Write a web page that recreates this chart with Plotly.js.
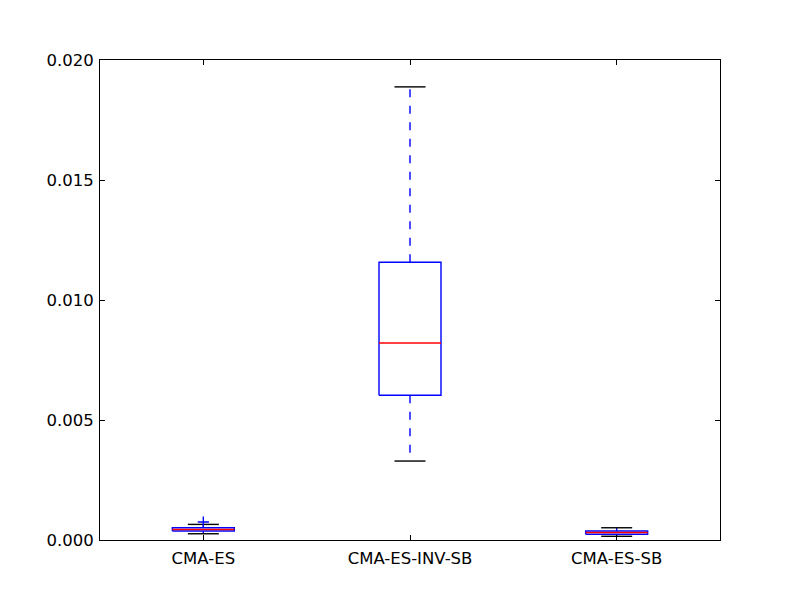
<!DOCTYPE html>
<html>
<head>
<meta charset="utf-8">
<script src="https://cdn.plot.ly/plotly-3.0.1.min.js"></script>
<style>
  body { margin: 0; background: #fff; }
  #boxPlot { width: 800px; height: 600px; }
</style>
</head>
<body>
<div id="boxPlot"></div>
<script>
// values
const categories = ['CMA-ES', 'CMA-ES-INV-SB', 'CMA-ES-SB'];
const lowerWhisker = [0.00026, 0.00329, 0.000155];
const q1 = [0.000375, 0.00603, 0.00024];
const median = [0.00044, 0.00821, 0.00031];
const q3 = [0.00051, 0.01157, 0.000375];
const upperWhisker = [0.00065, 0.01888, 0.00051];
const outliers = [[0.00075], [], []];

document.addEventListener('DOMContentLoaded', (event) => {

    const halfWidth = 0.15;   // matplotlib default box width 0.3
    const capHalf = halfWidth / 2;
    const positions = categories.map((c, i) => i + 1);
    const lw = 1.4;

    let whiskers = [];
    let caps = [];
    let boxes = [];
    let medians = [];
    let fliers = [];

    positions.forEach((pos, i) => {
        // dashed whiskers
        whiskers.push({
            x: [pos, pos, null, pos, pos],
            y: [q1[i], lowerWhisker[i], null, q3[i], upperWhisker[i]],
            mode: 'lines', type: 'scatter',
            line: {color: 'blue', width: lw, dash: '8px,8.5px'},
            hoverinfo: 'skip'
        });

        // black caps
        caps.push({
            x: [pos - capHalf, pos + capHalf, null, pos - capHalf, pos + capHalf],
            y: [lowerWhisker[i], lowerWhisker[i], null, upperWhisker[i], upperWhisker[i]],
            mode: 'lines', type: 'scatter',
            line: {color: 'black', width: lw},
            hoverinfo: 'skip'
        });

        // box outline
        boxes.push({
            x: [pos - halfWidth, pos + halfWidth, pos + halfWidth, pos - halfWidth, pos - halfWidth],
            y: [q1[i], q1[i], q3[i], q3[i], q1[i]],
            mode: 'lines', type: 'scatter',
            line: {color: 'blue', width: lw},
            hoverinfo: 'skip'
        });

        // median
        medians.push({
            x: [pos - halfWidth, pos + halfWidth],
            y: [median[i], median[i]],
            mode: 'lines', type: 'scatter',
            line: {color: 'red', width: lw},
            hoverinfo: 'skip'
        });

        if (outliers[i].length) {
            fliers.push({
                x: outliers[i].map(() => pos),
                y: outliers[i],
                mode: 'markers', type: 'scatter',
                marker: {symbol: 'cross-thin-open', size: 8, color: 'blue', line: {color: 'blue', width: lw}},
                hoverinfo: 'skip'
            });
        }
    });

    let data = [].concat(whiskers, caps, boxes, medians, fliers);

    let axisFont = {family: 'DejaVu Sans, sans-serif', size: 16.5, color: 'black'};

    let layout = {
        width: 800,
        height: 600,
        margin: {l: 100, r: 80, t: 60, b: 60},
        showlegend: false,
        paper_bgcolor: 'white',
        plot_bgcolor: 'white',
        xaxis: {
            range: [0.5, 3.5],
            tickvals: positions,
            ticktext: categories,
            ticks: 'inside',
            ticklen: 5,
            tickcolor: 'black',
            showgrid: false,
            zeroline: false,
            showline: true,
            linecolor: 'black',
            linewidth: 1,
            mirror: 'ticks',
            tickfont: axisFont,
            ticklabelstandoff: 3
        },
        yaxis: {
            range: [0, 0.020],
            tickvals: [0, 0.005, 0.010, 0.015, 0.020],
            tickformat: '.3f',
            ticks: 'inside',
            ticklen: 5,
            tickcolor: 'black',
            showgrid: false,
            zeroline: false,
            showline: true,
            linecolor: 'black',
            linewidth: 1,
            mirror: 'ticks',
            tickfont: axisFont,
            ticklabelstandoff: 2
        }
    };

    Plotly.newPlot('boxPlot', data, layout, {staticPlot: true});
});
</script>
</body>
</html>
